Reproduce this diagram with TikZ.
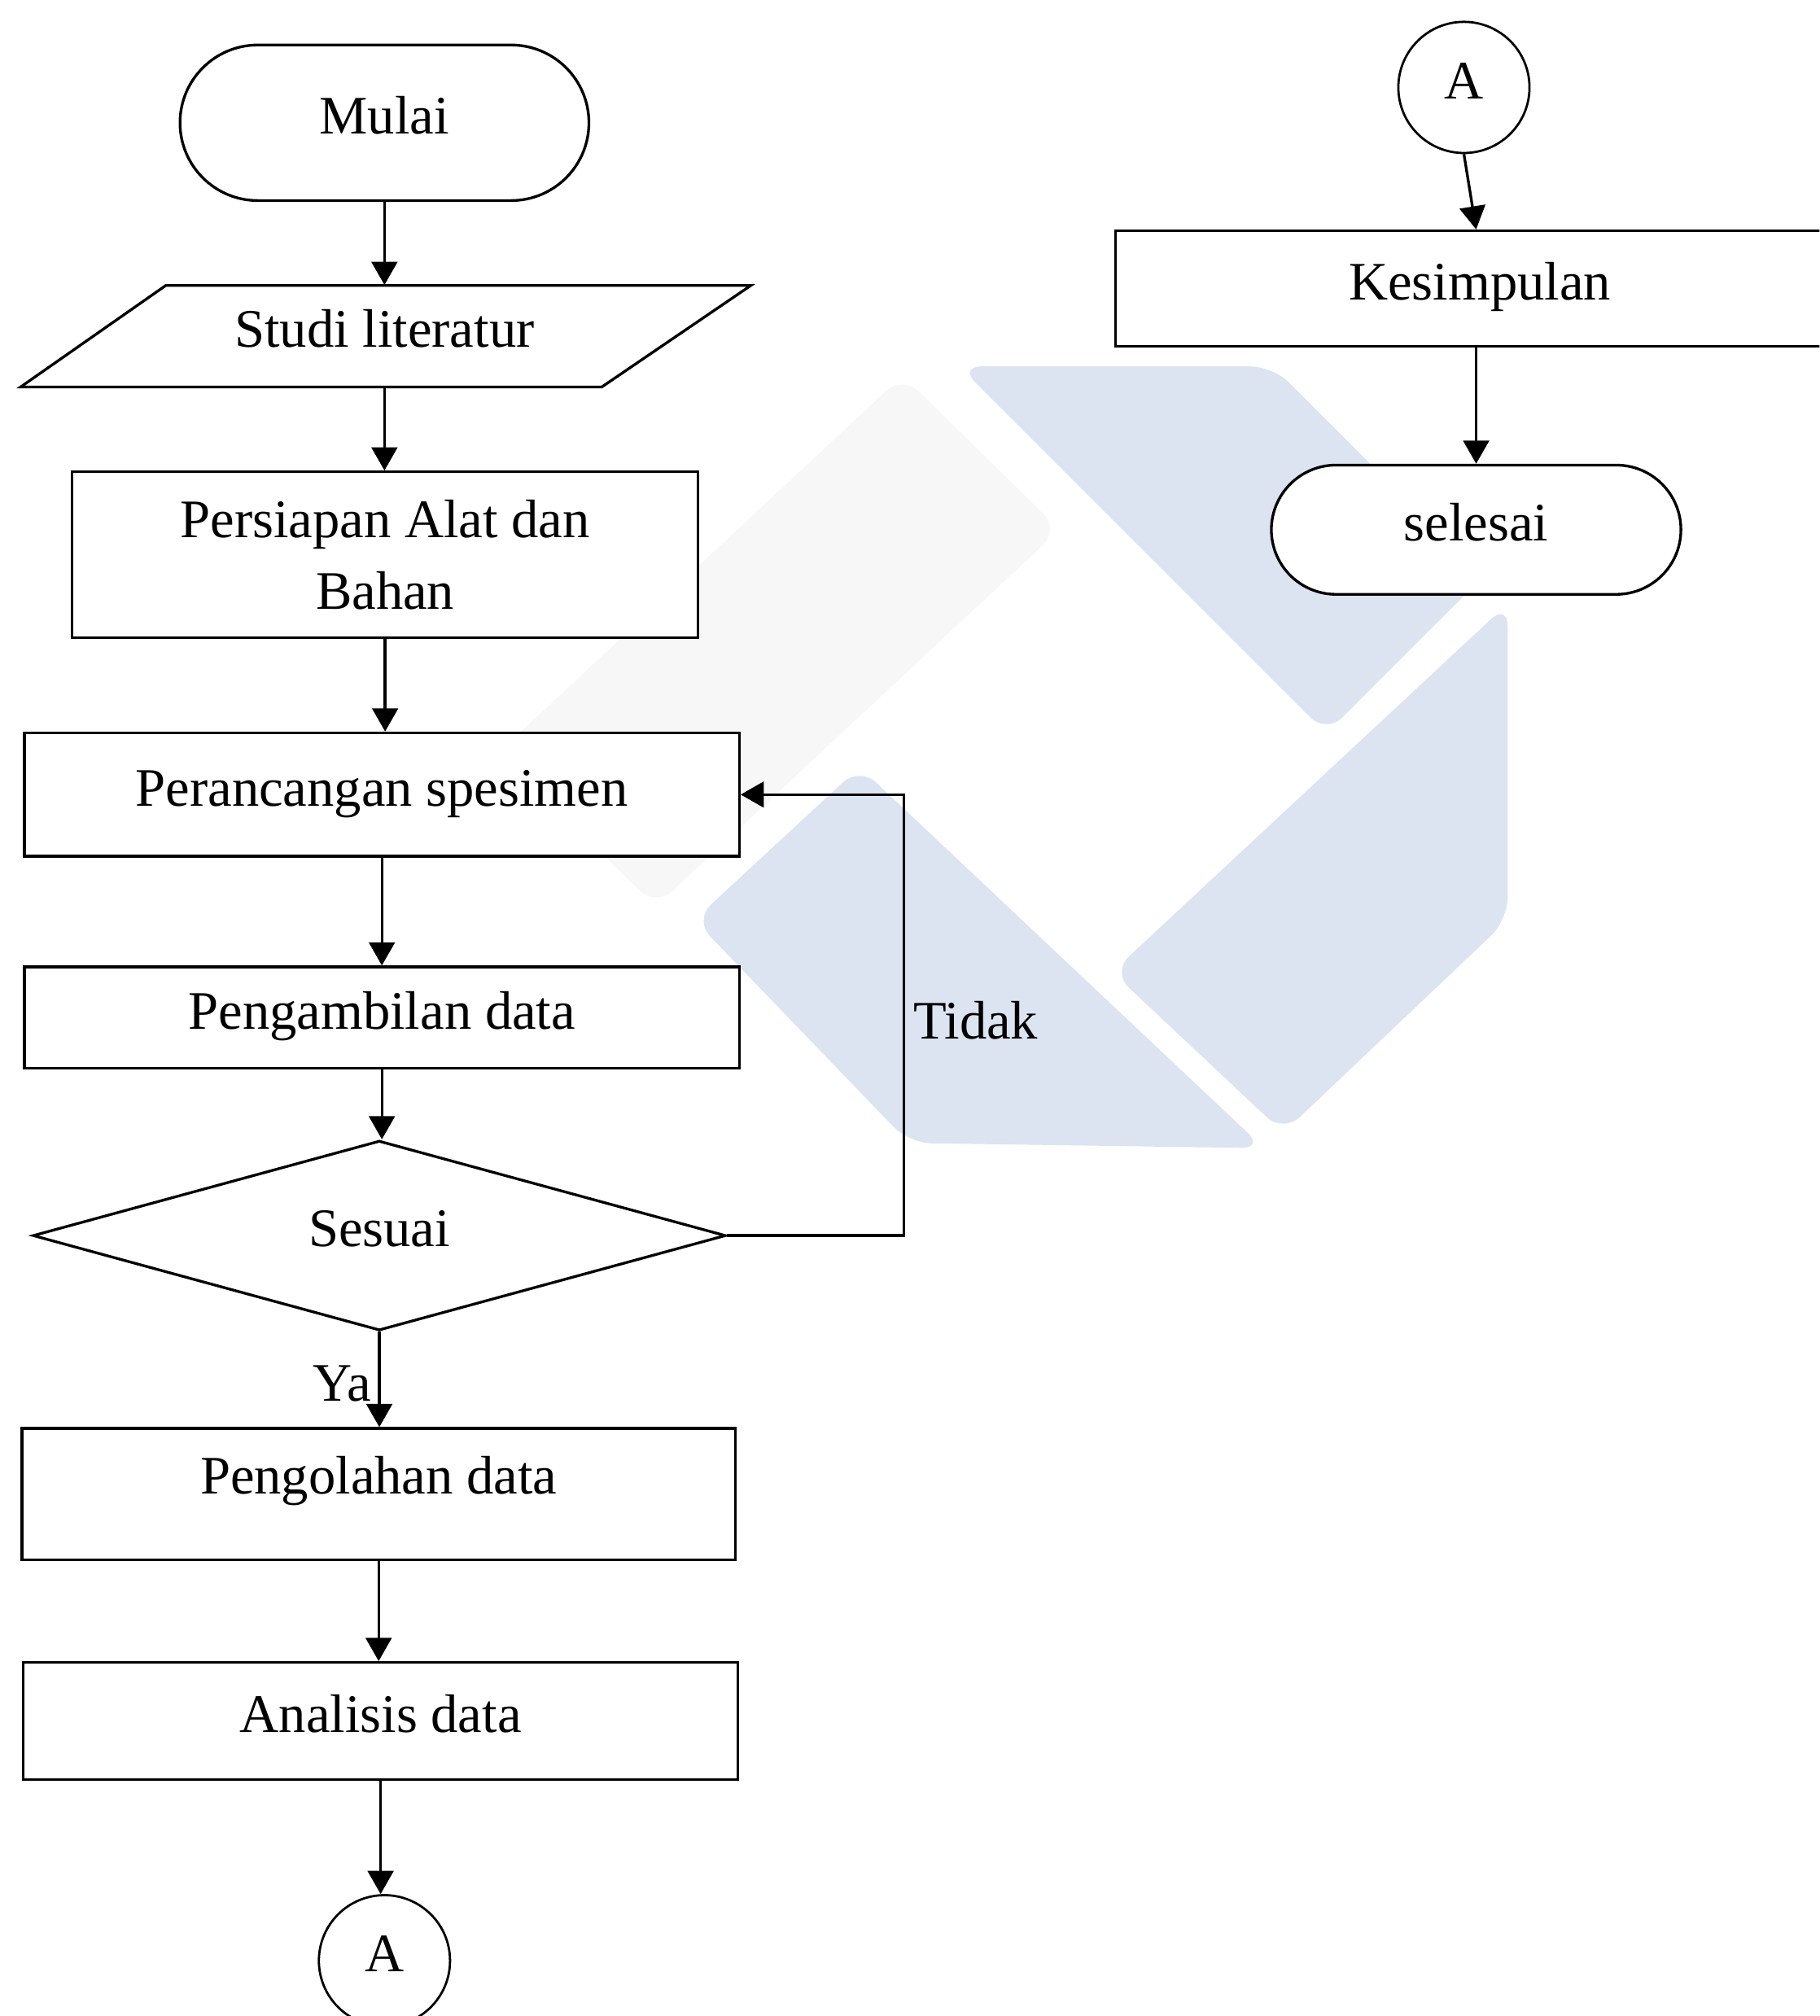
\documentclass[tikz,border=0pt]{standalone}
\usepackage{fontspec}
\setmainfont{Liberation Serif}
\usetikzlibrary{shapes.geometric,shapes.misc,arrows.meta}

\definecolor{logobiru}{RGB}{220,227,241}
\definecolor{logoabu}{RGB}{247,247,247}

\tikzset{
  garis/.style={line width=1.2pt},
  sebaris/.style={text height=0.55cm, text depth=0.2cm},
  kotak/.style={garis, draw, fill=white, rectangle, inner sep=0pt, sebaris},
  kotakdua/.style={garis, draw, fill=white, rectangle, inner sep=0pt, align=center},
  terminal/.style={garis, draw, fill=white, rounded rectangle, inner sep=0pt, sebaris},
  keputusan/.style={garis, draw, fill=white, diamond, inner sep=0pt, sebaris},
  konektor/.style={line width=1pt, draw, fill=white, circle, minimum size=2.04cm, inner sep=0pt, sebaris},
  ket/.style={inner sep=0pt, sebaris},
  panah/.style={garis, -{Triangle[width=0.4cm,length=0.36cm]}}
}

\begin{document}
\begin{tikzpicture}[font=\fontsize{24}{32}\selectfont]
  % Picture frame
  \useasboundingbox (0,0) rectangle (28.3,-31.36);
  \clip (0,0) rectangle (28.3,-31.36);

  % Faint logo in the background
  \begin{scope}[rounded corners=0.35cm]
    \fill[logoabu] (14.04,-5.84) -- (16.48,-8.24) -- (10.20,-14.10) -- (7.76,-11.70) -- cycle;
    \fill[logobiru] (14.92,-5.70) -- (19.80,-5.70) -- (23.07,-8.97) -- (20.63,-11.41) -- cycle;
    \fill[logobiru] (23.45,-9.39) -- (23.45,-14.31) -- (19.96,-17.62) -- (17.30,-15.12) -- cycle;
    \fill[logobiru] (13.37,-11.93) -- (19.66,-17.86) -- (14.14,-17.78) -- (10.80,-14.31) -- cycle;
  \end{scope}

  % Left column
  \node[terminal, minimum width=6.36cm, minimum height=2.42cm] (mulai) at (5.98,-1.91) {Mulai};

  \draw[garis, fill=white] (0.32,-6.02) -- (2.58,-4.44) -- (11.68,-4.44) -- (9.36,-6.02) -- cycle;
  \node[ket, minimum height=1.58cm] (studi) at (5.98,-5.23) {Studi literatur};

  \node[kotakdua, minimum width=9.74cm, minimum height=2.58cm] (persiapan) at (5.99,-8.63) {Persiapan Alat dan\\Bahan};
  \node[kotak, minimum width=11.12cm, minimum height=1.92cm] (rancang) at (5.94,-12.36) {Perancangan spesimen};
  \node[kotak, minimum width=11.12cm, minimum height=1.58cm] (ambil) at (5.94,-15.83) {Pengambilan data};
  \node[keputusan, minimum width=10.78cm, minimum height=2.95cm] (sesuai) at (5.90,-19.22) {Sesuai};
  \node[kotak, minimum width=11.10cm, minimum height=2.04cm, text depth=0.55cm] (olah) at (5.89,-23.24) {Pengolahan data};
  \node[kotak, minimum width=11.11cm, minimum height=1.82cm] (analisis) at (5.92,-26.77) {Analisis data};
  \node[konektor] (aBawah) at (5.98,-30.50) {A};

  % Downward flow
  \foreach \a/\b in {mulai/studi, studi/persiapan, persiapan/rancang, rancang/ambil,
                     ambil/sesuai, sesuai/olah, olah/analisis, analisis/aBawah}
    \draw[panah] (\a.south) -- (\a.south |- \b.north);

  % Loop back when not suitable
  \draw[panah] (sesuai.east) -- ++(2.75,0) coordinate (belok) |- (rancang.east);
  \node[ket, anchor=west] (tidak) at (14.20,-15.98) {Tidak};
  \node[ket, anchor=east] (ya) at (5.78,-21.62) {Ya};

  % Right column
  \node[konektor] (aAtas) at (22.77,-1.36) {A};
  \node[kotak, minimum width=11.34cm, minimum height=1.80cm] (simpul) at (23.02,-4.49) {Kesimpulan};
  \node[terminal, minimum width=6.37cm, minimum height=2.01cm] (selesai) at (22.96,-8.24) {selesai};

  \draw[panah] (aAtas.south) -- (simpul.north -| selesai.north);
  \draw[panah] (simpul.south -| selesai.north) -- (selesai.north);

\end{tikzpicture}
\end{document}
